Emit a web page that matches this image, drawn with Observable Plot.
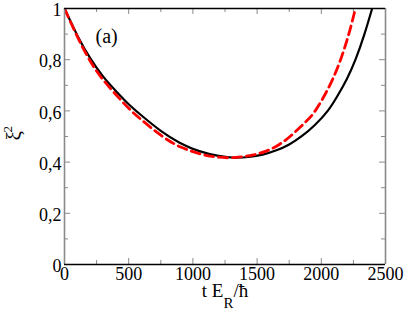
<!DOCTYPE html>
<html>
<head>
<meta charset="utf-8">
<script src="https://cdn.jsdelivr.net/npm/d3@7"></script>
<script src="https://cdn.jsdelivr.net/npm/@observablehq/plot@0.6"></script>
<style>
  html, body { margin: 0; padding: 0; background: #fff; }
  #chart svg { display: block; }
  #chart svg, #chart svg text, #chart svg tspan { font-family: "Liberation Serif", "Times New Roman", serif !important; }
</style>
</head>
<body>
<div id="chart"></div>
<script>
// ---- data ----
const blackT = [0, 100, 200, 300, 400, 500, 600, 750, 900, 1050, 1200, 1330, 1450, 1550, 1650, 1750, 1850, 1950, 2050, 2130, 2200, 2266, 2336, 2396];
const blackV = [1.000, 0.895, 0.806, 0.735, 0.678, 0.626, 0.582, 0.522, 0.475, 0.443, 0.424, 0.417, 0.421, 0.430, 0.446, 0.469, 0.502, 0.545, 0.600, 0.662, 0.726, 0.800, 0.900, 1.000];
const redT = [0, 100, 200, 300, 400, 500, 600, 750, 900, 1050, 1150, 1267, 1370, 1470, 1570, 1670, 1770, 1870, 1955, 2066, 2150, 2214, 2266];
const redV = [1.000, 0.890, 0.795, 0.722, 0.664, 0.610, 0.565, 0.505, 0.460, 0.433, 0.422, 0.417, 0.420, 0.428, 0.443, 0.468, 0.506, 0.553, 0.602, 0.700, 0.800, 0.900, 1.000];

const xMajor = [0, 500, 1000, 1500, 2000, 2500];
const xMinor = [250, 750, 1250, 1750, 2250];
const yMajor = [0, 0.2, 0.4, 0.6, 0.8, 1];
const yMinor = [0.1, 0.3, 0.5, 0.7, 0.9];
const yTickLabels = ["0", "0,2", "0,4", "0,6", "0,8", "1"];
const xTickLabels = ["0", "500", "1000", "1500", "2000", "2500"];
const xLabelParts = ["t E", "R", "/ħ"];
const yLabelParts = ["ξ", "2"];
const panelLabel = "(a)";

const black = blackT.map((t, i) => ({t, v: blackV[i]}));
const red = redT.map((t, i) => ({t, v: redV[i]}));

const W = 409, H = 312, mL = 64, mR = 24, mT = 8, mB = 48;
const fw = W - mL - mR, fh = H - mT - mB;
const grey = "#8a8a8a";
const font = "Liberation Serif";
const xLabelKey = xLabelParts.join("");

const chart = Plot.plot({
  width: W, height: H,
  marginLeft: mL, marginRight: mR, marginTop: mT, marginBottom: mB,
  style: {fontFamily: font, fontSize: "18px", background: "#fff", color: "#000"},
  x: {domain: [0, 2500]},
  y: {domain: [0, 1]},
  marks: [
    // tick marks (inward)
    Plot.tickX(xMajor, {x: d => d, insetTop: fh - 6, stroke: grey}),
    Plot.tickX(xMinor, {x: d => d, insetTop: fh - 4, stroke: grey}),
    Plot.tickX(xMajor, {x: d => d, insetBottom: fh - 6, stroke: grey}),
    Plot.tickX(xMinor, {x: d => d, insetBottom: fh - 4, stroke: grey}),
    Plot.tickY(yMajor, {y: d => d, insetRight: fw - 6, stroke: grey}),
    Plot.tickY(yMinor, {y: d => d, insetRight: fw - 4, stroke: grey}),
    Plot.tickY(yMajor, {y: d => d, insetLeft: fw - 6, stroke: grey}),
    Plot.tickY(yMinor, {y: d => d, insetLeft: fw - 4, stroke: grey}),
    // curves
    Plot.line(black, {x: "t", y: "v", stroke: "#000", strokeWidth: 2.2, curve: "natural", clip: true}),
    Plot.line(red, {x: "t", y: "v", stroke: "#ff0000", strokeWidth: 2.8, strokeDasharray: "9,5", curve: "natural", clip: true}),
    // frame
    Plot.ruleX([0], {stroke: grey, strokeWidth: 1.6}),
    Plot.ruleX([2500], {stroke: grey, strokeWidth: 1.6}),
    Plot.ruleY([0], {stroke: "#000", strokeWidth: 1.4}),
    Plot.ruleY([1], {stroke: "#000", strokeWidth: 1.4}),
    // axes labels
    Plot.axisX({ticks: xMajor, tickSize: 0, tickPadding: 3, tickFormat: (d, i) => xTickLabels[i], fontSize: 18, fontFamily: font, label: null}),
    Plot.axisY({ticks: yMajor, tickSize: 0, tickPadding: 3, dy: 2, tickFormat: (d, i) => yTickLabels[i], fontSize: 18, fontFamily: font, label: null}),
    Plot.text([xLabelKey], {frameAnchor: "bottom", lineAnchor: "middle", dy: 26, fontSize: 19, fontFamily: font, text: d => d}),
    Plot.text([yLabelParts[0]], {frameAnchor: "left", lineAnchor: "middle", dx: -50, dy: 4, rotate: -90, fontSize: 21, fontFamily: font, text: d => d}),
    Plot.text([yLabelParts[1]], {frameAnchor: "left", lineAnchor: "middle", dx: -57, dy: -4, rotate: -90, fontSize: 13, fontFamily: font, text: d => d}),
    Plot.text([panelLabel], {frameAnchor: "top-left", lineAnchor: "middle", textAnchor: "start", dx: 31, dy: 28, fontSize: 20, fontFamily: font, text: d => d})
  ]
});

// subscript for the x label
d3.select(chart).selectAll("text").each(function () {
  if (this.textContent === xLabelKey) {
    const t = d3.select(this);
    t.text("");
    t.append("tspan").text(xLabelParts[0]);
    t.append("tspan").attr("dy", 11).attr("font-size", 15).text(xLabelParts[1]);
    t.append("tspan").attr("dy", -11).text(xLabelParts[2]);
  }
});

document.getElementById("chart").appendChild(chart);
</script>
</body>
</html>
